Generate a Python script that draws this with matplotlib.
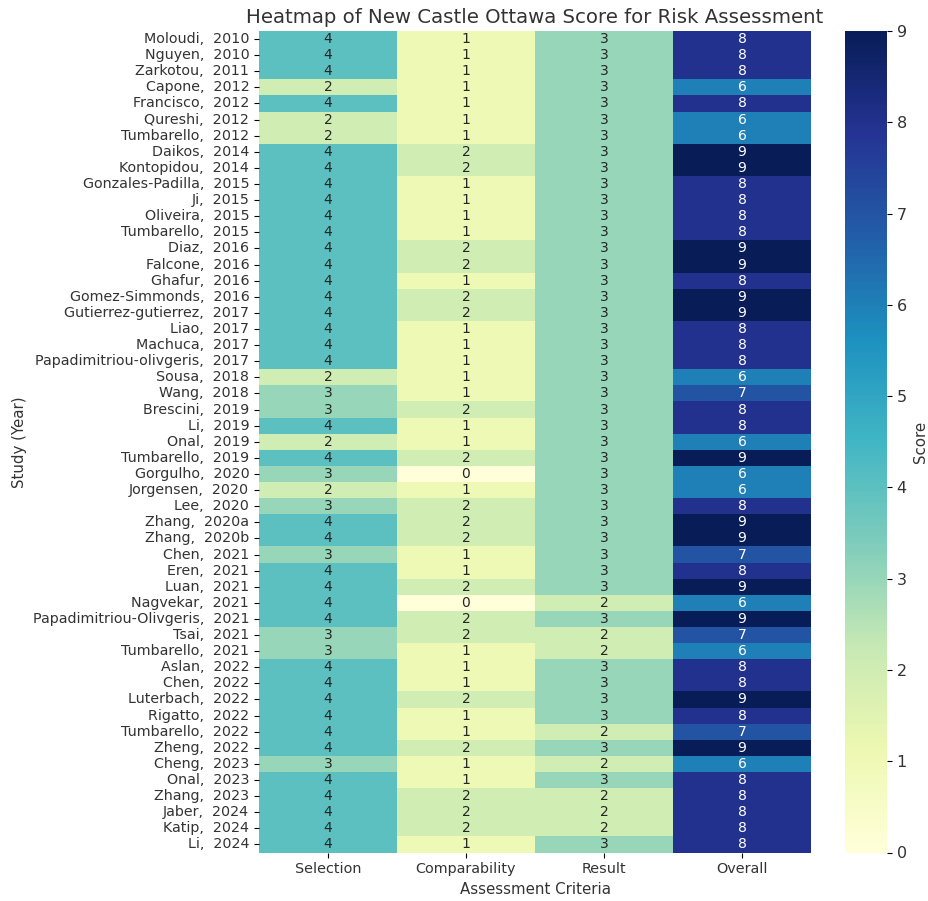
import numpy as np
import pandas as pd
import matplotlib
matplotlib.use("Agg")
import matplotlib.pyplot as plt
import seaborn as sns

# ── data ──────────────────────────────────────────────────────────────────────
studies = [
    "Moloudi,  2010", "Nguyen,  2010", "Zarkotou,  2011", "Capone,  2012",
    "Francisco,  2012", "Qureshi,  2012", "Tumbarello,  2012", "Daikos,  2014",
    "Kontopidou,  2014", "Gonzales-Padilla,  2015", "Ji,  2015", "Oliveira,  2015",
    "Tumbarello,  2015", "Diaz,  2016", "Falcone,  2016", "Ghafur,  2016",
    "Gomez-Simmonds,  2016", "Gutierrez-gutierrez,  2017", "Liao,  2017",
    "Machuca,  2017", "Papadimitriou-olivgeris,  2017", "Sousa,  2018",
    "Wang,  2018", "Brescini,  2019", "Li,  2019", "Onal,  2019",
    "Tumbarello,  2019", "Gorgulho,  2020", "Jorgensen,  2020", "Lee,  2020",
    "Zhang,  2020a", "Zhang,  2020b", "Chen,  2021", "Eren,  2021", "Luan,  2021",
    "Nagvekar,  2021", "Papadimitriou-Olivgeris,  2021", "Tsai,  2021",
    "Tumbarello,  2021", "Aslan,  2022", "Chen,  2022", "Luterbach,  2022",
    "Rigatto,  2022", "Tumbarello,  2022", "Zheng,  2022", "Cheng,  2023",
    "Onal,  2023", "Zhang,  2023", "Jaber,  2024", "Katip,  2024", "Li,  2024",
]
criteria = ["Selection", "Comparability", "Result", "Overall"]

selection = [4, 4, 4, 2, 4, 2, 2, 4, 4, 4, 4, 4, 4, 4, 4, 4, 4, 4, 4, 4, 4, 2, 3,
             3, 4, 2, 4, 3, 2, 3, 4, 4, 3, 4, 4, 4, 4, 3, 3, 4, 4, 4, 4, 4, 4, 3,
             4, 4, 4, 4, 4]
comparability = [1, 1, 1, 1, 1, 1, 1, 2, 2, 1, 1, 1, 1, 2, 2, 1, 2, 2, 1, 1, 1, 1,
                 1, 2, 1, 1, 2, 0, 1, 2, 2, 2, 1, 1, 2, 0, 2, 2, 1, 1, 1, 2, 1, 1,
                 2, 1, 1, 2, 2, 2, 1]
result = [3, 3, 3, 3, 3, 3, 3, 3, 3, 3, 3, 3, 3, 3, 3, 3, 3, 3, 3, 3, 3, 3, 3, 3,
          3, 3, 3, 3, 3, 3, 3, 3, 3, 3, 3, 2, 3, 2, 2, 3, 3, 3, 3, 2, 3, 2, 3, 2,
          2, 2, 3]
overall = [8, 8, 8, 6, 8, 6, 6, 9, 9, 8, 8, 8, 8, 9, 9, 8, 9, 9, 8, 8, 8, 6, 7, 8,
           8, 6, 9, 6, 6, 8, 9, 9, 7, 8, 9, 6, 9, 7, 6, 8, 8, 9, 8, 7, 9, 6, 8, 8,
           8, 8, 8]

df = pd.DataFrame({"Selection": selection, "Comparability": comparability,
                   "Result": result, "Overall": overall}, index=studies)[criteria]

# grey text like the original
txt = "#333333"
plt.rcParams.update({"text.color": txt, "axes.labelcolor": txt,
                     "xtick.labelcolor": txt, "ytick.labelcolor": txt,
                     "axes.labelsize": 10.8})

# ── plot ──────────────────────────────────────────────────────────────────────
fig = plt.figure(figsize=(9.29, 9.01), dpi=100)
ax = fig.add_axes([259 / 929, 1 - 852.5 / 901, 552 / 929, 821.5 / 901])
cax = fig.add_axes([845 / 929, 1 - 852.5 / 901, 42 / 929, 821.5 / 901])

sns.heatmap(df, annot=True, fmt="d", cmap="YlGnBu", ax=ax, cbar_ax=cax,
            cbar_kws={"label": "Score"}, annot_kws={"fontsize": 10})

ax.set_title("Heatmap of New Castle Ottawa Score for Risk Assessment", fontsize=14.2)
ax.set_xlabel("Assessment Criteria")
ax.set_ylabel("Study (Year)")
ax.set_yticks(np.arange(len(studies)) + 0.5)
ax.set_yticklabels(studies, rotation=0)
ax.tick_params(axis="x", rotation=0, labelsize=10.4)
ax.tick_params(axis="y", labelsize=10.3)
cax.tick_params(labelsize=11.5)

fig.savefig("out.png", dpi=100)
